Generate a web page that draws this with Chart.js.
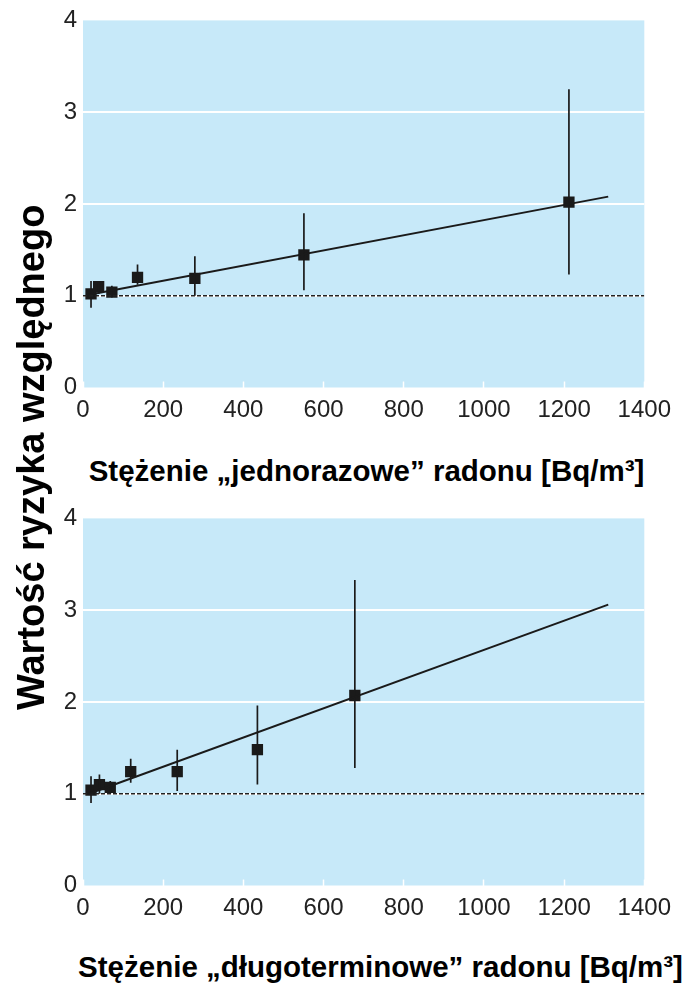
<!DOCTYPE html>
<html>
<head>
<meta charset="utf-8">
<script src="https://cdn.jsdelivr.net/npm/chart.js@4.4.1/dist/chart.umd.min.js"></script>
<style>
  html, body { margin:0; padding:0; background:#fff; width:685px; height:983px; overflow:hidden; }
  .wrap { position:absolute; left:0; width:685px; height:430px; }
  .ttl { position:absolute; font-family:"Liberation Sans", Arial, sans-serif; font-weight:bold; color:#000; white-space:nowrap; text-align:center; }
</style>
</head>
<body>
<div class="wrap" style="top:0px"><canvas id="c1" width="685" height="430"></canvas></div>
<div class="wrap" style="top:498px"><canvas id="c2" width="685" height="430"></canvas></div>
<div class="ttl" id="xt1" style="left:0; width:733px; top:454px; font-size:29.5px; line-height:33px;">Stężenie „jednorazowe” radonu [Bq/m³]</div>
<div class="ttl" id="xt2" style="left:0; width:761px; top:950px; font-size:29.5px; line-height:33px;">Stężenie „długoterminowe” radonu [Bq/m³]</div>
<div class="ttl" id="yt" style="left:-219px; width:500px; top:439px; font-size:38px; line-height:42px; transform:rotate(-90deg);">Wartość ryzyka względnego</div>
<script>
// ---- data ----
const xTicks = [0, 200, 400, 600, 800, 1000, 1200, 1400];
const yTicks = [0, 1, 2, 3, 4];

// chart 1: single ("jednorazowe") measurement
const x1 = [20, 39, 72, 136, 279, 551, 1212];
const y1 = [1.02, 1.10, 1.04, 1.20, 1.19, 1.445, 2.02];
const lo1 = [0.87, 1.02, 0.98, 1.12, 1.00, 1.06, 1.23];
const hi1 = [1.16, 1.15, 1.11, 1.34, 1.43, 1.90, 3.25];
const fitX1 = [15, 1310];
const fitY1 = [1.01, 2.08];

// chart 2: long-term ("długoterminowe") measurement
const x2 = [20, 41, 68, 119, 235, 435, 678];
const y2 = [1.04, 1.10, 1.07, 1.24, 1.24, 1.48, 2.07];
const lo2 = [0.90, 1.00, 1.00, 1.12, 1.03, 1.10, 1.28];
const hi2 = [1.19, 1.21, 1.14, 1.38, 1.48, 1.96, 3.33];
const fitX2 = [15, 1310];
const fitY2 = [1.00, 3.06];

const refX = [0, 1400];
const refY = [1, 1];

// ---- helpers ----
const bgPlugin = {
  id: 'plotBg',
  beforeDraw(chart) {
    const { ctx, chartArea: a } = chart;
    ctx.save();
    ctx.fillStyle = '#c7e9f9';
    ctx.fillRect(a.left, a.top, a.right - a.left, a.bottom - a.top);
    ctx.restore();
  }
};

function pts(xs, ys) { return xs.map((x, i) => ({ x: x, y: ys[i] })); }
function errData(xs, lo, hi) {
  const d = [];
  xs.forEach((x, i) => { d.push({ x: x, y: lo[i] }); d.push({ x: x, y: hi[i] }); d.push({ x: x, y: null }); });
  return d;
}

const tickFont = { family: '"Liberation Sans Narrow", "Liberation Sans", Arial, sans-serif', size: 24 };

function makeChart(id, xs, ys, lo, hi, fx, fy) {
  return new Chart(document.getElementById(id), {
    type: 'line',
    data: {
      datasets: [
        { label: 'fit', data: pts(fx, fy), borderColor: '#1a1a1a', borderWidth: 2, pointRadius: 0, fill: false, tension: 0 },
        { label: 'ref', data: pts(refX, refY), borderColor: '#222', borderWidth: 1.5, borderDash: [4, 2], pointRadius: 0, fill: false },
        { label: 'err', data: errData(xs, lo, hi), borderColor: '#1a1a1a', borderWidth: 1.7, pointRadius: 0, spanGaps: false, fill: false },
        { label: 'pts', data: pts(xs, ys), showLine: false, pointStyle: 'rect', pointRadius: 8, pointBackgroundColor: '#1a1a1a', pointBorderColor: '#1a1a1a', pointBorderWidth: 0 }
      ]
    },
    options: {
      responsive: false,
      animation: false,
      devicePixelRatio: 1,
      events: [],
      layout: { padding: { top: 17, right: 38, left: 0, bottom: 0 } },
      plugins: { legend: { display: false }, tooltip: { enabled: false } },
      scales: {
        x: {
          type: 'linear', min: 0, max: 1400,
          afterBuildTicks: s => { s.ticks = xTicks.map(v => ({ value: v })); },
          afterFit: s => { s.height = 42.5; },
          border: { display: false },
          grid: { drawOnChartArea: false, drawTicks: true, tickLength: -6, tickColor: '#ffffff', tickWidth: 1.5 },
          ticks: { font: tickFont, color: '#222', padding: 14, maxRotation: 0, autoSkip: false, callback: v => String(v) }
        },
        y: {
          type: 'linear', min: 0, max: 4,
          afterBuildTicks: s => { s.ticks = yTicks.map(v => ({ value: v })); },
          afterFit: s => { s.width = 83; },
          border: { display: false },
          grid: { drawTicks: false, lineWidth: 2, color: c => (c.tick && c.tick.value > 0 && c.tick.value < 4) ? '#ffffff' : 'rgba(0,0,0,0)' },
          ticks: { font: tickFont, color: '#222', padding: 6, callback: v => String(v) }
        }
      }
    },
    plugins: [bgPlugin]
  });
}

makeChart('c1', x1, y1, lo1, hi1, fitX1, fitY1);
makeChart('c2', x2, y2, lo2, hi2, fitX2, fitY2);
</script>
</body>
</html>
